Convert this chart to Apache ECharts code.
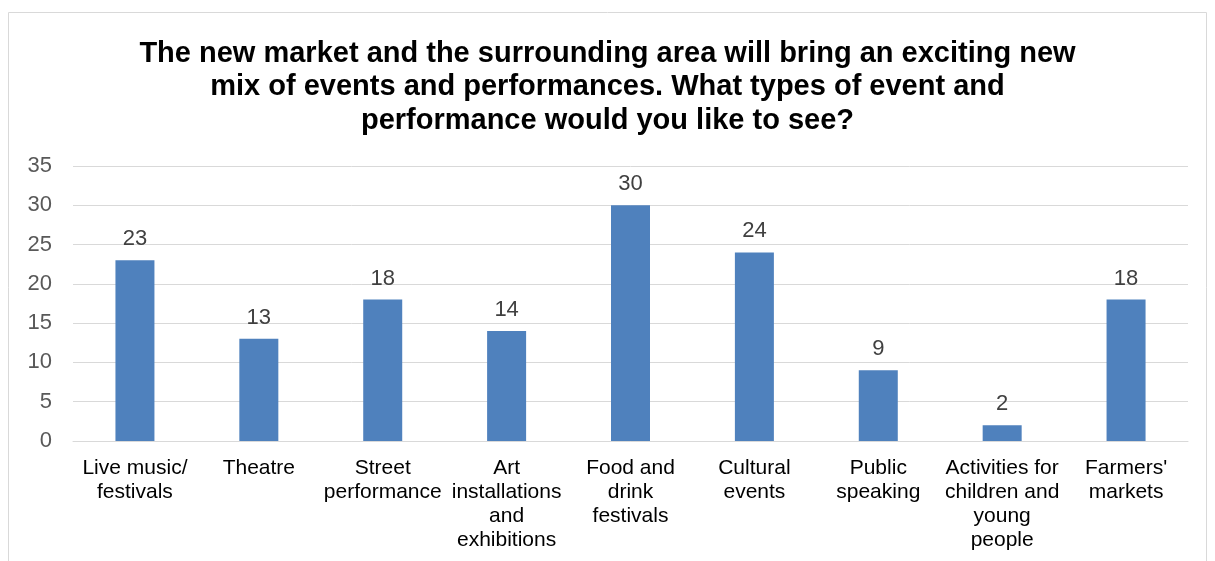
<!DOCTYPE html>
<html><head><meta charset="utf-8">
<script src="https://cdn.jsdelivr.net/npm/echarts@6/dist/echarts.min.js"></script>
<style>html,body{margin:0;padding:0;background:#fff}#c{width:1215px;height:561px}</style>
</head><body><div id="c"></div>
<script>
const categories = ["Live music/\nfestivals","Theatre","Street\nperformance","Art\ninstallations\nand\nexhibitions","Food and\ndrink\nfestivals","Cultural\nevents","Public\nspeaking","Activities for\nchildren and\nyoung\npeople","Farmers'\nmarkets"];
const values = [23,13,18,14,30,24,9,2,18];
const yTicks = [0,5,10,15,20,25,30,35];
const titleText = "The new market and the surrounding area will bring an exciting new\nmix of events and performances. What types of event and\nperformance would you like to see?";
const chart = echarts.init(document.getElementById('c'));
chart.setOption({
  animation:false,
  textStyle:{fontFamily:'Liberation Sans, Arial, sans-serif'},
  graphic:[{type:'rect',shape:{x:8.5,y:12.5,width:1198,height:560},style:{fill:'none',stroke:'#d9d9d9',lineWidth:1}}],
  title:{text:titleText,left:'center',top:32,textStyle:{fontSize:29,fontWeight:'bold',color:'#000',lineHeight:33.5,fontFamily:'Liberation Sans, Arial, sans-serif'}},
  grid:{left:73,right:27,top:166,bottom:120,containLabel:false},
  xAxis:{type:'category',data:categories,axisTick:{show:false},
    axisLine:{lineStyle:{color:'#d9d9d9',width:1}},
    axisLabel:{interval:0,color:'#000',fontSize:21,lineHeight:24,margin:15}},
  yAxis:{type:'value',min:yTicks[0],max:yTicks[yTicks.length-1],interval:5,
    axisLabel:{color:'#595959',fontSize:22,margin:21},
    splitLine:{lineStyle:{color:'#d9d9d9',width:1}},axisLine:{show:false},axisTick:{show:false}},
  series:[{type:'bar',data:values,barWidth:39,itemStyle:{color:'#4f81bd'},
    label:{show:true,position:'top',color:'#404040',fontSize:22,distance:10}}]
});
</script></body></html>
